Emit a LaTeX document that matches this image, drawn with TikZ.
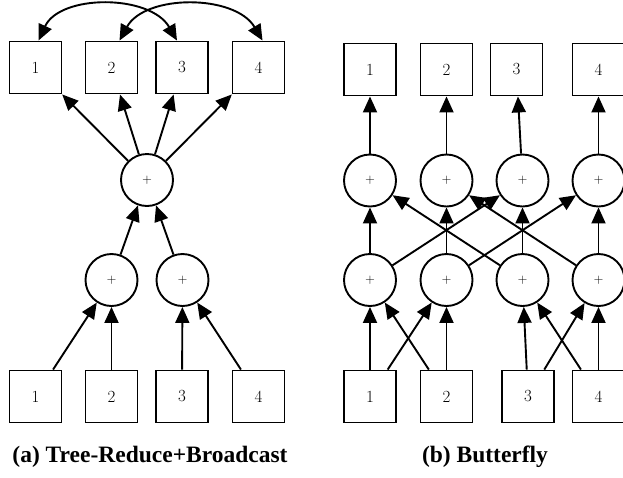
\documentclass[tikz,border=0pt]{standalone}
\usepackage{fontspec}
\newfontfamily\capfont{Liberation Serif}
\usetikzlibrary{arrows.meta}
\begin{document}
\begin{tikzpicture}[x=1pt,y=-1pt,line width=1.9pt,
  boxnode/.style={draw,line width=1.9pt,minimum width=52pt,minimum height=52pt,inner sep=0pt,font=\fontsize{17}{17}\selectfont},
  sumnode/.style={draw,circle,line width=1.9pt,minimum size=52pt,inner sep=0pt,font=\fontsize{13}{13}\selectfont},
  edge/.style={-{Triangle[length=16pt,width=14pt]},line width=1.9pt},
  biedge/.style={{Triangle[length=16pt,width=14pt]}-{Triangle[length=16pt,width=14pt]},line width=1.9pt},
  captext/.style={font=\capfont\bfseries\fontsize{23.5}{24}\selectfont,inner sep=0pt}]
\useasboundingbox (0,0) rectangle (623,477);
\begin{scope}
\clip (0,0) rectangle (623,477);
% ---------- (a) Tree-Reduce+Broadcast ----------
\node[boxnode] (T1) at (35.5,67.5) {1};
\node[boxnode] (T2) at (111.5,67.5) {2};
\node[boxnode] (T3) at (182,67.5) {3};
\node[boxnode] (T4) at (258.5,67.5) {4};
\node[sumnode] (C) at (147,180) {+};
\node[sumnode] (M1) at (111.5,280) {+};
\node[sumnode] (M2) at (182.5,280) {+};
\node[boxnode] (B1) at (35.5,396.5) {1};
\node[boxnode] (B2) at (111.5,396.5) {2};
\node[boxnode] (B3) at (182,396.5) {3};
\node[boxnode] (B4) at (258.5,396.5) {4};
\node[captext] (capa) at (150,457) {(a) Tree-Reduce+Broadcast};

\draw[edge] (B1) -- (M1);
\draw[edge] (B2) -- (M1);
\draw[edge] (B3) -- (M2);
\draw[edge] (B4) -- (M2);
\draw[edge] (M1) -- (C);
\draw[edge] (M2) -- (C);
\draw[edge] (C) -- (T1);
\draw[edge] (C) -- (T2);
\draw[edge] (C) -- (T3);
\draw[edge] (C) -- (T4);
\coordinate (a1) at ([xshift=3pt]T1.north);
\coordinate (a3) at ([xshift=-5pt]T3.north);
\coordinate (a2) at ([xshift=8pt]T2.north);
\coordinate (a4) at ([xshift=4pt]T4.north);
\draw[biedge] (a1) .. controls (60,-6) and (150,-6) .. (a3);
\draw[biedge] (a2) .. controls (145,-6) and (235,-6) .. (a4);

% ---------- (b) Butterfly ----------
\node[boxnode] (RT1) at (370,69.5) {1};
\node[boxnode] (RT2) at (446.5,69.5) {2};
\node[boxnode] (RT3) at (516.5,69.5) {3};
\node[boxnode] (RT4) at (598.5,69.5) {4};
\node[sumnode] (RU1) at (370,180.5) {+};
\node[sumnode] (RU2) at (446.5,180.5) {+};
\node[sumnode] (RU3) at (522.5,180.5) {+};
\node[sumnode] (RU4) at (598.5,180.5) {+};
\node[sumnode] (RM1) at (370,280) {+};
\node[sumnode] (RM2) at (446.5,280) {+};
\node[sumnode] (RM3) at (522.5,280) {+};
\node[sumnode] (RM4) at (598.5,280) {+};
\node[boxnode] (RB1) at (370,396.5) {1};
\node[boxnode] (RB2) at (446.5,396.5) {2};
\node[boxnode] (RB3) at (528,396.5) {3};
\node[boxnode] (RB4) at (598.5,396.5) {4};
\node[captext] (capb) at (485,457) {(b) Butterfly};

\draw[edge] (RB1) -- (RM1);
\draw[edge] (RB1) -- (RM2);
\draw[edge] (RB2) -- (RM1);
\draw[edge] (RB2) -- (RM2);
\draw[edge] (RB3) -- (RM3);
\draw[edge] (RB3) -- (RM4);
\draw[edge] (RB4) -- (RM3);
\draw[edge] (RB4) -- (RM4);
\draw[edge] (RM1) -- (RU1);
\draw[edge] (RM1) -- (RU3);
\draw[edge] (RM2) -- (RU2);
\draw[edge] (RM2) -- (RU4);
\draw[edge] (RM3) -- (RU1);
\draw[edge] (RM3) -- (RU3);
\draw[edge] (RM4) -- (RU2);
\draw[edge] (RM4) -- (RU4);
\draw[edge] (RU1) -- (RT1);
\draw[edge] (RU2) -- (RT2);
\draw[edge] (RU3) -- (RT3);
\draw[edge] (RU4) -- (RT4);
\end{scope}
\end{tikzpicture}
\end{document}
